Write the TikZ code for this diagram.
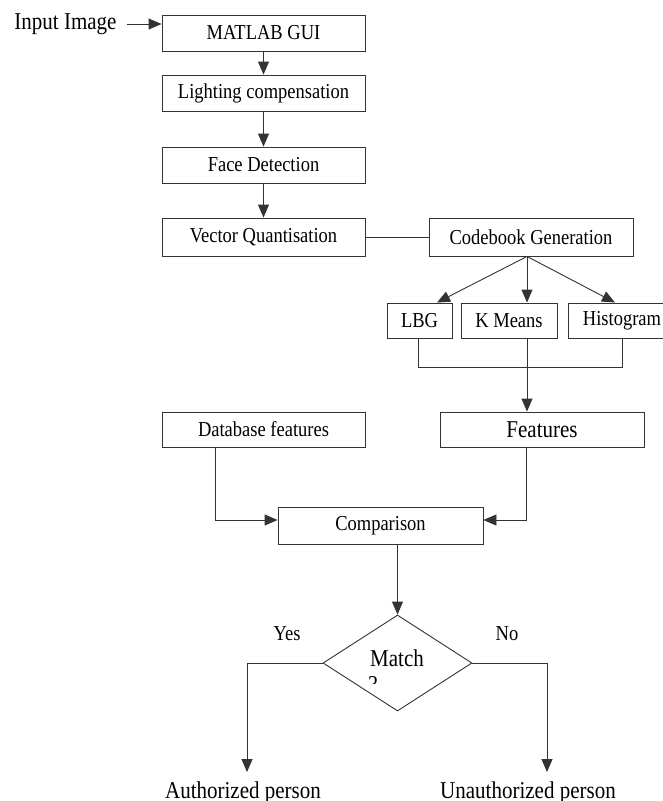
\documentclass[tikz,border=0pt]{standalone}
\usepackage{fontspec}
\setmainfont{Liberation Serif}
\usetikzlibrary{arrows.meta,shapes.geometric,calc}
\newcommand{\vs}[1]{\scalebox{1}[1.15]{#1}}
\begin{document}
\begin{tikzpicture}[x=1pt,y=-1pt,
  line width=0.9pt, draw=black!80,
  box/.style={draw=black!80, rectangle, inner sep=0pt, font=\fontsize{18.5}{20}\selectfont},
  lbl/.style={inner sep=0pt, font=\fontsize{18.5}{20}\selectfont},
  big/.style={inner sep=0pt, font=\fontsize{21}{23}\selectfont},
  arr/.style={-{Triangle[width=11pt,length=13pt]}}]
\useasboundingbox (0,0) rectangle (663,801);
\clip (0,0) rectangle (663,801);
\fill[white] (0,0) rectangle (663,801);

\node[big, anchor=center] (inp) at (65.5,24) {\vs{Input Image}};
\node[box, minimum width=203pt, minimum height=36pt] (gui) at (263.5,33) {\vs{MATLAB GUI}};
\node[box, minimum width=203pt, minimum height=36pt] (light) at (263.5,93) {\vs{Lighting compensation}};
\node[box, minimum width=203pt, minimum height=36pt] (face) at (263.5,165) {\vs{Face Detection}};
\node[box, minimum width=203pt, minimum height=38pt] (vq) at (263.5,237) {\vs{Vector Quantisation}};
\node[box, minimum width=204pt, minimum height=38pt] (code) at (531,237) {\vs{Codebook Generation}};
\node[box, minimum width=65pt, minimum height=35pt] (lbg) at (419.5,320.5) {\vs{LBG}};
\node[box, minimum width=96pt, minimum height=35pt] (km) at (509,320.5) {\vs{K Means}};
\node[box, minimum width=108pt, minimum height=35pt] (hist) at (622,320.5) {\vs{Histogram}};
\node[box, minimum width=203pt, minimum height=35pt] (db) at (263.5,429.5) {\vs{Database features}};
\node[box, minimum width=204pt, minimum height=35pt, font=\fontsize{21}{23}\selectfont] (feat) at (542,429.5) {\vs{Features}};
\node[box, minimum width=205pt, minimum height=37pt] (comp) at (380.5,525.5) {\vs{Comparison}};
\node[draw=black!80, diamond, inner sep=0pt, minimum width=149pt, minimum height=96pt] (dia) at (397.5,663) {};
\node[big, anchor=base] (match) at (397,666) {\vs{Match}};
\begin{scope}
  \clip (360,670) rectangle (390,683.5);
  \node[big, anchor=base] (q) at (373,692) {\vs{?}};
\end{scope}
\node[lbl] (yes) at (287,634) {\vs{Yes}};
\node[lbl] (no) at (507,634) {\vs{No}};
\node[big, anchor=base] (auth) at (243,798) {\vs{Authorized person}};
\node[big, anchor=base] (unauth) at (528,798) {\vs{Unauthorized person}};

\coordinate (sp) at ($(code.south)+(-4,0)$);
\coordinate (aend) at (247,772);
\coordinate (uend) at (547,772);

\draw[arr] ($(inp.east)+(10,0)$) -- (inp.east -| gui.west);
\draw[arr] (gui) -- (light);
\draw[arr] (light) -- (face);
\draw[arr] (face) -- (vq);
\draw (vq) -- (code);
\draw[arr] (sp) -- ($(lbg.north)+(17.5,0)$);
\draw[arr] (sp) -- (sp |- km.north);
\draw[arr] (sp) -- ($(hist.north)+(-7,0)$);
\draw ($(lbg.south)+(-1.5,0)$) -- ++(0,29) -| (hist.south);
\draw[arr] (sp |- km.south) -- (sp |- feat.north);
\draw[arr] ($(db.south)+(-48.5,0)$) |- ($(comp.west)+(0,-5.5)$);
\draw[arr] ($(feat.south)+(-16,0)$) |- ($(comp.east)+(0,-5.5)$);
\draw[arr] (dia.north |- comp.south) -- (dia.north);
\draw[arr] (dia.west) -| (aend);
\draw[arr] (dia.east) -| (uend);
\end{tikzpicture}
\end{document}
